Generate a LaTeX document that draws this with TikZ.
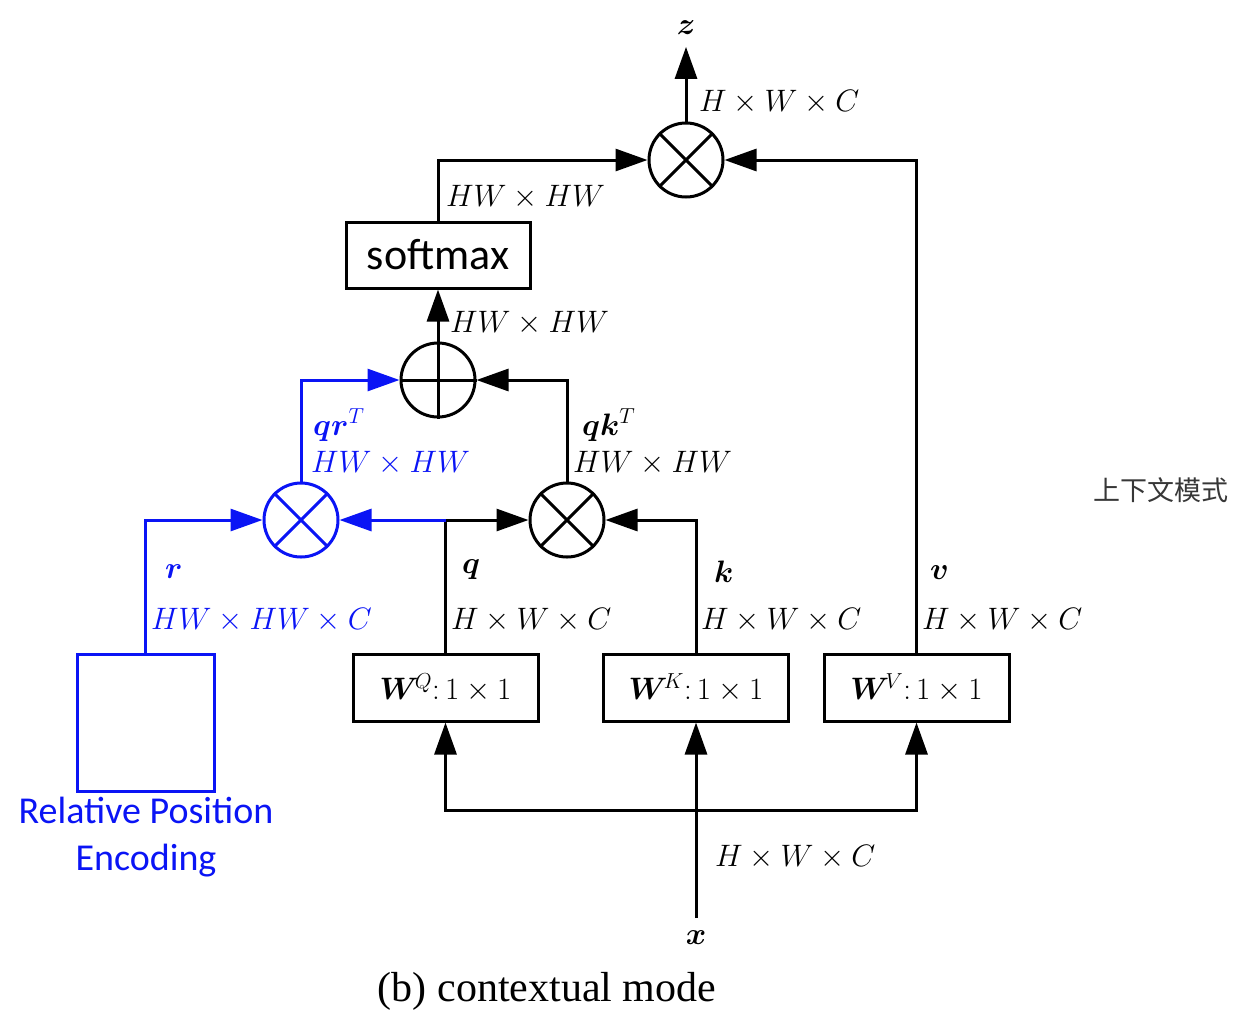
\RequirePackage{fix-cm}
\documentclass[tikz,border=0pt]{standalone}
\usepackage{bm}
\usepackage{fontspec}
\newfontfamily\carl{Carlito}
\newfontfamily\tnr{Liberation Serif}
\newfontfamily\cjk{Noto Sans CJK SC}
\usetikzlibrary{arrows.meta}
\definecolor{rpblue}{RGB}{10,20,245}
\definecolor{cjkgray}{RGB}{55,55,55}
\newcommand\mfs{\fontsize{31}{37}\selectfont}
\tikzset{
  ln/.style={line width=3pt},
  arr/.style={ln, -{Triangle[length=32pt,width=22pt]}},
  opcirc/.style={circle, draw, ln, minimum size=74pt, inner sep=0pt},
  wbox/.style={draw, ln, minimum width=185pt, minimum height=67pt, inner sep=0pt, font=\mfs},
  lbl/.style={anchor=west, inner sep=0pt, font=\mfs},
}
\begin{document}
\begin{tikzpicture}[x=1pt,y=-1pt]
\useasboundingbox (0,0) rectangle (1244,1018);
% operators
\node[opcirc] (mtop) at (686,160) {};
\node[opcirc] (plus) at (438,380) {};
\node[opcirc, draw=rpblue] (mB) at (301,520) {};
\node[opcirc] (mR) at (567,520) {};
\draw[ln] (mtop.north east) -- (mtop.south west) (mtop.north west) -- (mtop.south east);
\draw[ln] (mR.north east) -- (mR.south west) (mR.north west) -- (mR.south east);
\draw[ln, rpblue] (mB.north east) -- (mB.south west) (mB.north west) -- (mB.south east);
\draw[ln] (plus.north) -- (plus.south) (plus.west) -- (plus.east);
% boxes
\node[draw, ln, minimum width=184pt, minimum height=66pt, inner sep=0pt, font=\carl\fontsize{44}{50}\selectfont] (soft) at (438,255) {softmax};
\node[wbox] (WQ) at (445.5,687.5) {$\bm{W}^{\!Q}{:}\,1\times 1$};
\node[wbox] (WK) at (696,687.5) {$\bm{W}^{\!K}{:}\,1\times 1$};
\node[wbox] (WV) at (916.5,687.5) {$\bm{W}^{\!V}{:}\,1\times 1$};
\node[draw=rpblue, ln, minimum width=137pt, minimum height=137pt, inner sep=0pt] (RPE) at (145.5,722.5) {};
\node[text=rpblue, align=center, inner sep=0pt, font=\carl\fontsize{38}{47}\selectfont] (rpetext) at (146,837) {Relative Position\\Encoding};
% end labels
\node[inner sep=0pt, outer ysep=12pt, font=\mfs] (zlbl) at (686,28) {$\bm{z}$};
\node[inner sep=0pt, outer ysep=13pt, font=\mfs] (xlbl) at (696,938) {$\bm{x}$};
\coordinate (jq) at (445.5,520);
\coordinate (jx) at (696,810);
% connectors
\draw[ln] (WQ.north) -- (jq);
\draw[arr] (jq) -- (mR.west);
\draw[arr, rpblue] (jq) -- (mB.east);
\draw[arr] (WK.north) |- (mR.east);
\draw[arr] (WV.north) |- (mtop.east);
\draw[arr, rpblue] (RPE.north) |- (mB.west);
\draw[arr, rpblue] (mB.north) |- (plus.west);
\draw[arr] (mR.north) |- (plus.east);
\draw[arr] (plus.north) -- (soft.south);
\draw[arr] (soft.north) |- (mtop.west);
\draw[arr] (mtop.north) -- (zlbl);
\draw[arr] (xlbl) -- (WK.south);
\draw[arr] (jx) -| (WQ.south);
\draw[arr] (jx) -| (WV.south);
% dimension labels
\node[lbl] (l1) at (699,102) {$H\times W\times C$};
\node[lbl] (l2) at (446,197) {$HW\times HW$};
\node[lbl] (l3) at (450,323) {$HW\times HW$};
\node[lbl, text=rpblue] (l4) at (313,425) {$\bm{qr}^{T}$};
\node[lbl, text=rpblue] (l5) at (311,463) {$HW\times HW$};
\node[lbl] (l6) at (582,425) {$\bm{qk}^{T}$};
\node[lbl] (l7) at (573,463) {$HW\times HW$};
\node[lbl, text=rpblue] (l8) at (165,572) {$\bm{r}$};
\node[lbl, text=rpblue] (l9) at (151,620) {$HW\times HW\times C$};
\node[lbl] (l10) at (462,570) {$\bm{q}$};
\node[lbl] (l11) at (451,620) {$H\times W\times C$};
\node[lbl] (l12) at (714,572) {$\bm{k}$};
\node[lbl] (l13) at (701,620) {$H\times W\times C$};
\node[lbl] (l14) at (930,573) {$\bm{v}$};
\node[lbl] (l15) at (922,620) {$H\times W\times C$};
\node[lbl] (l16) at (715,857) {$H\times W\times C$};
% caption and side text
\node[inner sep=0pt, font=\tnr\fontsize{42}{50}\selectfont] (cap) at (547,991) {(b) contextual mode};
\node[inner sep=0pt, text=cjkgray, font=\cjk\fontsize{27}{32}\selectfont] (cn) at (1161,490) {上下文模式};
\end{tikzpicture}
\end{document}
